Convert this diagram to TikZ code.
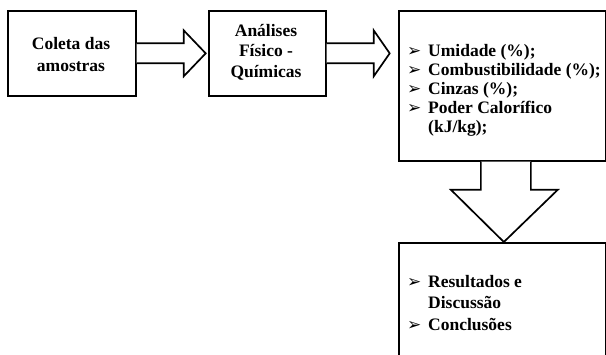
\documentclass[tikz,border=0pt]{standalone}
\usepackage{fontspec}
\setmainfont{Liberation Serif}
\newfontfamily\dejavu{DejaVu Sans}
\usetikzlibrary{calc}
\newcommand{\bulglyph}{\raisebox{0pt}{\dejavu\fontsize{17}{17}\selectfont ➢}}
\newcommand{\bul}{\makebox[21pt][l]{\bulglyph}}
\tikzset{
  box/.style={draw, line width=1.7pt, anchor=north west, inner sep=0pt, fill=white},
  blockarrow/.style={draw, line width=1.7pt, line join=miter, fill=white},
  txt/.style={inner sep=0pt, font=\bfseries\fontsize{17.5}{21}\selectfont},
  ltxt/.style={txt, anchor=base west},
}
\begin{document}
\begin{tikzpicture}[x=1pt, y=-1pt]
\clip (0,0) rectangle (606,355);
\fill[white] (0,0) rectangle (606,355);
% boxes
\node[box, minimum width=128pt, minimum height=85pt] (b1) at (7,10) {};
\node[box, minimum width=117pt, minimum height=85pt] (b2) at (208,10) {};
\node[box, minimum width=207pt, minimum height=150pt] (b3) at (398,10) {};
\node[box, minimum width=207pt, minimum height=140pt] (b4) at (398,242) {};
% block arrows
\draw[blockarrow] ($(b1.east)+(0,-10)$) -- ++(47,0) -- ++(0,-13) -- ($(b1.east)+(69,0)$) -- ($(b1.east)+(47,23)$) -- ++(0,-13) -- ($(b1.east)+(0,10)$);
\draw[blockarrow] ($(b2.east)+(0,-10)$) -- ++(47,0) -- ++(0,-13) -- ($(b2.east)+(63,0)$) -- ($(b2.east)+(47,23)$) -- ++(0,-13) -- ($(b2.east)+(0,10)$);
\draw[blockarrow] ($(b3.south)+(-21.5,0)$) -- ++(0,28) -- ++(-30,0) -- (b4.north -| {$(b3.south)+(1.5,0)$}) -- ($(b3.south)+(55.5,28)$) -- ++(-27,0) -- ($(b3.south)+(28.5,0)$);
% box 1 text
\node[txt, anchor=base] (c1) at (71,50) {Coleta das};
\node[txt, anchor=base] (c2) at (71,72) {amostras};
% box 2 text
\node[txt, anchor=base] (a1) at (266,37) {Análises};
\node[txt, anchor=base] (a2) at (266,57) {Físico -};
\node[txt, anchor=base] (a3) at (266,78) {Químicas};
% box 3 text
\node[ltxt] (u1) at (407,57) {\bul Umidade (\%);};
\node[ltxt] (u2) at (407,76) {\bul Combustibilidade (\%);};
\node[ltxt] (u3) at (407,95) {\bul Cinzas (\%);};
\node[ltxt] (u4) at (407,114) {\bul Poder Calorífico};
\node[ltxt] (u5) at (428,133) {(kJ/kg);};
% box 4 text
\node[ltxt] (r1) at (407,288) {\bul Resultados e};
\node[ltxt] (r2) at (428,309) {Discussão};
\node[ltxt] (r3) at (407,331) {\bul Conclusões};
\end{tikzpicture}
\end{document}
